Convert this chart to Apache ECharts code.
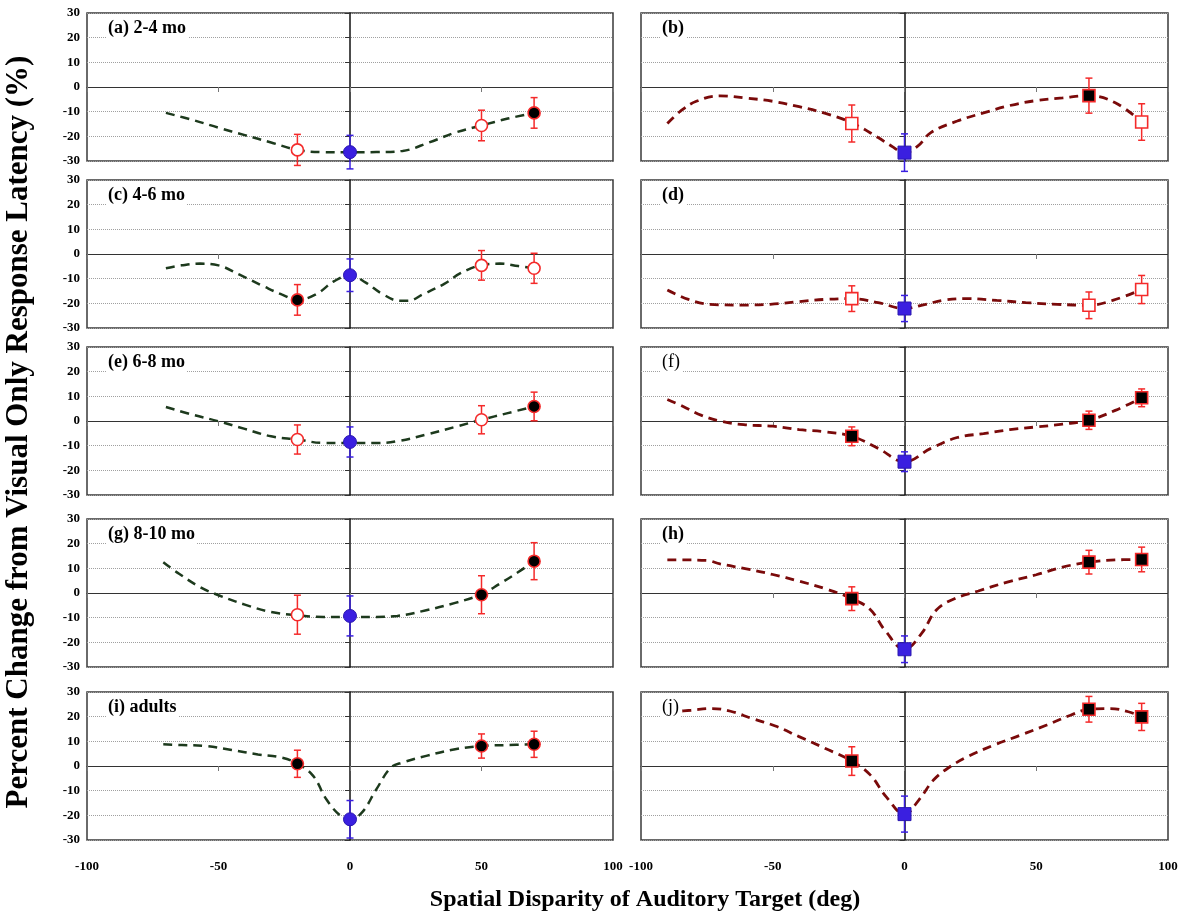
<!DOCTYPE html>
<html>
<head>
<meta charset="utf-8">
<script src="https://cdn.jsdelivr.net/npm/echarts@6/dist/echarts.min.js"></script>
<style>
html, body { margin: 0; padding: 0; background: #fff; }
#main { width: 1196px; height: 919px; }
</style>
</head>
<body>
<div id="main"></div>
<script>
// axis ranges / ticks
const xRange = [-100, 100], xStep = 50
const yRange = [-30, 30], yStep = 10

// panel titles
const panelNames = ['(a) 2-4 mo', '(b)', '(c) 4-6 mo', '(d)', '(e) 6-8 mo', '(f)', '(g) 8-10 mo', '(h)', '(i) adults', '(j)']

// target positions (deg)
const xLeft = [-20, 0, 50, 70]
const xRight = [-20, 0, 70, 90]

// mean, error (+/-), marker kind, fitted curve  for every panel
const meanA = [-25.5, -26.4, -15.6, -10.5]
const errA = [6.3, 6.8, 6.2, 6.2]
const kindA = ['open', 'base', 'open', 'filled']
const curveA = [[-70, -10.5], [-60, -13.3], [-50, -16.5], [-40, -19.5], [-30, -22.5], [-20, -25.5], [-10, -26.4], [0, -26.5], [10, -26.4], [20, -25.9], [30, -22.5], [40, -18.5], [50, -15.6], [60, -12.8], [70, -10.5]]

const meanB = [-14.8, -26.6, -3.5, -14.2]
const errB = [7.5, 7.6, 7.1, 7.4]
const kindB = ['open', 'base', 'filled', 'open']
const curveB = [[-90, -14.8], [-85, -9.8], [-79, -5.8], [-70, -3.6], [-60, -4.5], [-50, -5.8], [-40, -8], [-30, -10.7], [-20, -14.5], [-10, -20.5], [-5, -23.9], [0, -26.6], [5, -24], [10, -18.5], [20, -13.8], [30, -10.5], [40, -7.5], [50, -5.5], [60, -4.4], [70, -3.5], [80, -6.4], [90, -14.2]]

const meanC = [-18.6, -8.6, -4.6, -5.8]
const errC = [6.2, 6.6, 6, 6.1]
const kindC = ['filled', 'base', 'open', 'open']
const curveC = [[-70, -5.8], [-64, -4.6], [-57, -3.9], [-50, -4.6], [-42, -8.4], [-33, -13], [-26, -16.4], [-20, -18.6], [-13, -16.4], [-6, -11], [0, -8.6], [6, -11.6], [12, -16], [19, -19], [22, -19], [28, -16.2], [36, -12], [42, -7.8], [50, -4.5], [57, -3.9], [64, -4.9], [70, -5.8]]

const meanD = [-18.1, -22.1, -20.8, -14.4]
const errD = [5.2, 5.3, 5.4, 5.7]
const kindD = ['open', 'base', 'open', 'open']
const curveD = [[-90, -14.6], [-82, -18.4], [-74, -20.4], [-62, -20.7], [-51, -20.4], [-40, -19.3], [-30, -18.4], [-20, -18.1], [-10, -19.7], [0, -22.1], [8, -20.4], [15, -18.7], [24, -18.1], [35, -18.8], [46, -19.7], [58, -20.4], [70, -20.8], [79, -18.8], [90, -14.4]]

const meanE = [-7.5, -8.5, 0.5, 5.9]
const errE = [5.9, 6.1, 5.7, 5.8]
const kindE = ['open', 'base', 'open', 'filled']
const curveE = [[-70, 5.7], [-60, 2.6], [-50, -0.1], [-40, -3.2], [-30, -6.2], [-20, -7.5], [-10, -8.9], [0, -8.9], [10, -8.9], [18, -8.2], [29, -5.5], [40, -2.4], [50, 0.5], [60, 3.2], [70, 5.9]]

const meanF = [-6.2, -16.5, 0.3, 9.4]
const errF = [3.8, 4, 3.7, 3.6]
const kindF = ['filled', 'base', 'filled', 'filled']
const curveF = [[-90, 8.7], [-84, 5.9], [-77, 2.3], [-70, 0], [-61, -1.5], [-50, -2.1], [-40, -3.5], [-30, -4.4], [-20, -6.2], [-10, -11.1], [0, -16.5], [10, -11.1], [20, -6.7], [30, -5.1], [40, -3.5], [50, -2.4], [60, -1.3], [70, 0.3], [80, 4.3], [90, 9.4]]

const meanG = [-8.8, -9.3, -0.7, 12.9]
const errG = [7.9, 8.1, 7.7, 7.5]
const kindG = ['open', 'base', 'filled', 'filled']
const curveG = [[-71, 12.5], [-65, 7.8], [-57, 2.4], [-50, -0.9], [-40, -4.7], [-30, -7.7], [-20, -9], [-10, -9.7], [0, -9.7], [10, -9.7], [18, -9.3], [29, -7], [40, -4], [50, -0.5], [57, 3.8], [64, 8.5], [70, 12.9]]

const meanH = [-2.3, -22.8, 12.5, 13.6]
const errH = [4.8, 5.4, 4.8, 5]
const kindH = ['filled', 'base', 'filled', 'filled']
const curveH = [[-90, 13.4], [-84, 13.4], [-75, 13.2], [-70, 11.8], [-60, 9.8], [-50, 7.5], [-40, 4.8], [-30, 1.7], [-20, -2.3], [-13, -6.7], [-7.5, -15], [0, -22.8], [6.5, -16.4], [12, -7], [19, -2.3], [28, 0.8], [39, 4.4], [50, 7.4], [60, 10.5], [70, 12.5], [80, 13.4], [90, 13.6]]

const meanI = [0.9, -21.6, 8.1, 8.8]
const errI = [5.5, 7.6, 4.9, 5.3]
const kindI = ['filled', 'base', 'filled', 'filled']
const curveI = [[-71, 8.8], [-64, 8.5], [-55, 8.1], [-45, 6.5], [-35, 4.7], [-26, 3.4], [-20, 0.9], [-14, -4], [-9, -13.5], [-3.5, -20.3], [0, -21.6], [4.5, -18.9], [10, -9.5], [15.5, -0.7], [20, 1.4], [29, 4.1], [40, 6.8], [50, 8.1], [60, 8.5], [70, 8.8]]

const meanJ = [2, -19.5, 23, 19.9]
const errJ = [5.8, 7.3, 5.2, 5.5]
const kindJ = ['filled', 'base', 'filled', 'filled']
const curveJ = [[-90, 21.8], [-81, 22.6], [-73, 23.3], [-66, 22.2], [-58, 19.3], [-49, 16.2], [-40, 11.9], [-30, 7.1], [-20, 2], [-13, -3.6], [-7, -12.4], [0, -19.5], [5.5, -13.7], [11, -5.7], [17, -0.5], [24, 3.8], [34, 8.5], [44, 12.5], [54, 16.6], [63, 20.6], [70, 23], [78, 23.3], [85, 22], [90, 19.9]]

const panels = [
    {x: xLeft, mean: meanA, err: errA, kind: kindA, curve: curveA},
    {x: xRight, mean: meanB, err: errB, kind: kindB, curve: curveB},
    {x: xLeft, mean: meanC, err: errC, kind: kindC, curve: curveC},
    {x: xRight, mean: meanD, err: errD, kind: kindD, curve: curveD},
    {x: xLeft, mean: meanE, err: errE, kind: kindE, curve: curveE},
    {x: xRight, mean: meanF, err: errF, kind: kindF, curve: curveF},
    {x: xLeft, mean: meanG, err: errG, kind: kindG, curve: curveG},
    {x: xRight, mean: meanH, err: errH, kind: kindH, curve: curveH},
    {x: xLeft, mean: meanI, err: errI, kind: kindI, curve: curveI},
    {x: xRight, mean: meanJ, err: errJ, kind: kindJ, curve: curveJ},
]

// layout
const colLeft = [87, 641]
const colWidth = [526, 527]
const rowTop = [13, 180, 347, 519, 692]
const rowH = 148
const FONT = '"Liberation Serif", "Times New Roman", serif'
const RED = '#f42a2a'
const BLUE = '#3a1fe0'
const curveColor = ['#1d3a1d', '#7a0a0a']
const boldTitle = [true, true, true, true, true, false, true, true, true, false]

function markerStyle(kind) {
    if (kind === 'base') return {color: BLUE, borderColor: '#2a18b0', borderWidth: 1, opacity: 1}
    if (kind === 'filled') return {color: '#000', borderColor: RED, borderWidth: 1.6, opacity: 1}
    return {color: '#fff', borderColor: RED, borderWidth: 1.6, opacity: 1}
}

function renderErr(params, api) {
    const x = api.value(0)
    const lo = api.coord([x, api.value(1)])
    const hi = api.coord([x, api.value(2)])
    const st = {stroke: api.visual('color'), lineWidth: 1.5}
    const w = 3.5
    return {
        type: 'group',
        children: [
            {type: 'line', shape: {x1: hi[0], y1: hi[1], x2: lo[0], y2: lo[1]}, style: st},
            {type: 'line', shape: {x1: hi[0] - w, y1: hi[1], x2: hi[0] + w, y2: hi[1]}, style: st},
            {type: 'line', shape: {x1: lo[0] - w, y1: lo[1], x2: lo[0] + w, y2: lo[1]}, style: st},
        ]
    }
}

const grid = [], xAxis = [], yAxis = [], series = [], title = []

panels.forEach((p, k) => {
    const col = k % 2, row = Math.floor(k / 2)
    grid.push({
        left: colLeft[col], top: rowTop[row], width: colWidth[col], height: rowH,
        show: true, borderColor: '#3a3a3a', borderWidth: 1.5, backgroundColor: 'transparent'
    })
    // axis drawn through 0 (lines + small ticks)
    xAxis.push({
        gridIndex: k, type: 'value', min: xRange[0], max: xRange[1], interval: xStep,
        axisLine: {onZero: true, lineStyle: {color: '#333', width: 1}},
        axisTick: {show: true, length: 5, lineStyle: {color: '#777'}},
        axisLabel: {show: false}, splitLine: {show: false}
    })
    // axis only for labels at the bottom
    xAxis.push({
        gridIndex: k, type: 'value', min: xRange[0], max: xRange[1], interval: xStep, position: 'bottom',
        axisLine: {show: false, onZero: false}, axisTick: {show: false}, splitLine: {show: false},
        axisLabel: {show: row === 4, margin: 20, fontFamily: FONT, fontWeight: 'bold', fontSize: 13, color: '#000'}
    })
    yAxis.push({
        gridIndex: k, type: 'value', min: yRange[0], max: yRange[1], interval: yStep,
        axisLine: {onZero: true, lineStyle: {color: '#111', width: 1.5}},
        axisTick: {show: true, length: 5, lineStyle: {color: '#333'}},
        axisLabel: {show: false},
        splitLine: {show: true, lineStyle: {type: 'dotted', color: '#a0a0a0', width: 1}}
    })
    yAxis.push({
        gridIndex: k, type: 'value', min: yRange[0], max: yRange[1], interval: yStep, position: 'left',
        axisLine: {show: false, onZero: false}, axisTick: {show: false}, splitLine: {show: false},
        axisLabel: {show: col === 0, margin: 7, fontFamily: FONT, fontWeight: 'bold', fontSize: 13, color: '#000'}
    })

    title.push({
        text: panelNames[k], left: colLeft[col] + 19, top: rowTop[row] + 5, padding: [1, 2],
        backgroundColor: '#fff',
        textStyle: {fontFamily: FONT, fontWeight: boldTitle[k] ? 'bold' : 'normal', fontSize: 18, color: '#000'}
    })

    series.push({
        type: 'line', xAxisIndex: 2 * k, yAxisIndex: 2 * k, data: p.curve,
        smooth: 0.4, symbol: 'none', silent: true, z: 2,
        lineStyle: {type: [9, 6], width: col === 0 ? 2.5 : 2.8, color: curveColor[col]}
    })
    series.push({
        type: 'custom', xAxisIndex: 2 * k, yAxisIndex: 2 * k, renderItem: renderErr, z: 3, silent: true,
        encode: {x: 0, y: [1, 2]},
        data: p.x.map((x, i) => ({
            value: [x, p.mean[i] - p.err[i], p.mean[i] + p.err[i]],
            itemStyle: {color: p.kind[i] === 'base' ? BLUE : RED}
        }))
    })
    series.push({
        type: 'scatter', xAxisIndex: 2 * k, yAxisIndex: 2 * k, z: 4, silent: true,
        symbol: col === 0 ? 'circle' : 'rect',
        data: p.x.map((x, i) => ({
            value: [x, p.mean[i]],
            symbolSize: p.kind[i] === 'base' ? 13 : 12,
            itemStyle: markerStyle(p.kind[i])
        }))
    })
})

const chart = echarts.init(document.getElementById('main'))
chart.setOption({
    animation: false,
    backgroundColor: '#fff',
    title: title,
    grid: grid,
    xAxis: xAxis,
    yAxis: yAxis,
    series: series,
    graphic: [
        {
            type: 'text', x: 19, y: 432, rotation: Math.PI / 2,
            style: {
                text: 'Percent Change from Visual Only Response Latency (%)',
                font: 'bold 31px ' + FONT, fill: '#000', align: 'center', verticalAlign: 'middle'
            }
        },
        {
            type: 'text', x: 645, y: 900,
            style: {
                text: 'Spatial Disparity of Auditory Target (deg)',
                font: 'bold 24px ' + FONT, fill: '#000', align: 'center', verticalAlign: 'middle'
            }
        }
    ]
})
</script>
</body>
</html>
